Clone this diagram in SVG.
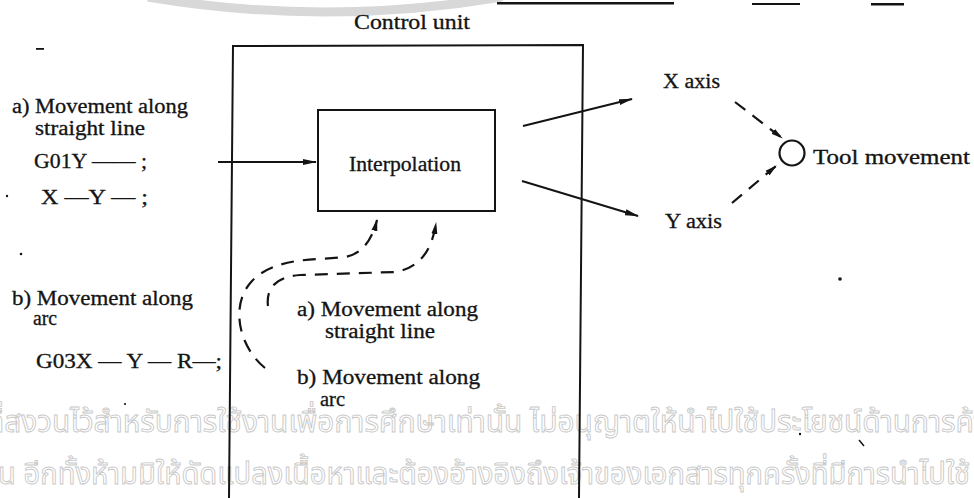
<svg xmlns="http://www.w3.org/2000/svg" width="974" height="498" viewBox="0 0 974 498">
  <style>
    .t { font-family: "Liberation Serif", "DejaVu Serif", serif; font-size: 20px; fill: #141414; stroke: #141414; stroke-width: 0.3; }
    .wm { font-family: "Noto Sans Thai", "Noto Sans", "DejaVu Sans", sans-serif; font-size: 30px; fill: #ffffff; stroke: #c8c8c8; stroke-width: 0.9; }
    .ln { fill: none; stroke: #141414; stroke-width: 2; }
    .dash { fill: none; stroke: #141414; stroke-width: 2.2; stroke-dasharray: 13 9; }
    .speck { fill: #141414; }
  </style>
  <defs>
    <marker id="head" viewBox="0 0 14 8" refX="13" refY="4" markerWidth="14" markerHeight="8" markerUnits="userSpaceOnUse" orient="auto">
      <path d="M0 1 L14 4 L0 7 Z" fill="#141414"/>
    </marker>
    <marker id="headSmall" viewBox="0 0 12 8" refX="11" refY="4" markerWidth="12" markerHeight="8" markerUnits="userSpaceOnUse" orient="auto">
      <path d="M0 1 L12 4 L0 7 Z" fill="#141414"/>
    </marker>
  </defs>

  <rect width="974" height="498" fill="#ffffff"/>

  <!-- background watermark -->
  <g id="watermark">
    <path d="M148 -3 Q 325 27 502 -3" fill="none" stroke="#d8d8d8" stroke-width="9"/>
    <text class="wm" x="-14" y="432" textLength="1000" lengthAdjust="spacingAndGlyphs">ที่สงวนไว้สำหรับการใช้งานเพื่อการศึกษาเท่านั้น ไม่อนุญาตให้นำไปใช้ประโยชน์ด้านการค้า</text>
    <text class="wm" x="-2" y="484" textLength="972" lengthAdjust="spacingAndGlyphs">น อีกทั้งห้ามมิให้ดัดแปลงเนื้อหาและต้องอ้างอิงถึงเจ้าของเอกสารทุกครั้งที่มีการนำไปใช้</text>
  </g>

  <!-- print remnants along the top edge -->
  <g id="marks">
    <rect x="497" y="2" width="177" height="2.5" class="speck"/>
    <rect x="752" y="3" width="48" height="2" class="speck"/>
    <rect x="871" y="3" width="33" height="2.5" class="speck"/>
    <rect x="36" y="48" width="8" height="1.8" class="speck"/>
    <circle cx="7" cy="196" r="1.2" class="speck"/>
    <circle cx="21" cy="254" r="1.3" class="speck"/>
    <circle cx="125" cy="404" r="1.1" class="speck"/>
    <circle cx="840" cy="279" r="1.8" class="speck"/>
    <circle cx="800" cy="434" r="1.2" class="speck"/>
    <path d="M859 440 L864 446" stroke="#141414" stroke-width="1.5"/>
  </g>

  <!-- control unit enclosure -->
  <g id="control-unit">
    <path d="M229 498 L233 46 L583 45 L579 498" class="ln" stroke-width="2.6"/>
    <text class="t" x="354" y="29" textLength="116" lengthAdjust="spacingAndGlyphs">Control unit</text>
  </g>

  <g id="interpolation">
    <rect x="318" y="110" width="177" height="101" class="ln" stroke-width="2.4"/>
    <text class="t" x="349" y="171" textLength="112" lengthAdjust="spacingAndGlyphs">Interpolation</text>
  </g>

  <g id="input-straight">
    <text class="t" x="12" y="113" textLength="176" lengthAdjust="spacingAndGlyphs">a) Movement along</text>
    <text class="t" x="35" y="135" textLength="110" lengthAdjust="spacingAndGlyphs">straight line</text>
    <text class="t" x="34" y="168" textLength="113" lengthAdjust="spacingAndGlyphs">G01Y —— ;</text>
    <text class="t" x="41" y="204" textLength="107" lengthAdjust="spacingAndGlyphs">X —Y — ;</text>
  </g>

  <g id="input-arc">
    <text class="t" x="12" y="305" textLength="181" lengthAdjust="spacingAndGlyphs">b) Movement along</text>
    <text class="t" x="33" y="325" textLength="24" lengthAdjust="spacingAndGlyphs">arc</text>
    <text class="t" x="36" y="368" textLength="186" lengthAdjust="spacingAndGlyphs">G03X — Y — R—;</text>
  </g>

  <g id="modes">
    <text class="t" x="297" y="316" textLength="181" lengthAdjust="spacingAndGlyphs">a) Movement along</text>
    <text class="t" x="325" y="338" textLength="110" lengthAdjust="spacingAndGlyphs">straight line</text>
    <text class="t" x="297" y="384" textLength="183" lengthAdjust="spacingAndGlyphs">b) Movement along</text>
    <text class="t" x="320" y="406" textLength="25" lengthAdjust="spacingAndGlyphs">arc</text>
  </g>

  <g id="x-axis">
    <text class="t" x="663" y="88" textLength="57" lengthAdjust="spacingAndGlyphs">X axis</text>
  </g>
  <g id="y-axis">
    <text class="t" x="665" y="228" textLength="57" lengthAdjust="spacingAndGlyphs">Y axis</text>
  </g>
  <g id="tool">
    <circle cx="792" cy="153" r="12.5" fill="none" stroke="#141414" stroke-width="2.2"/>
    <text class="t" x="813" y="164" textLength="157" lengthAdjust="spacingAndGlyphs">Tool movement</text>
  </g>

  <!-- connectors -->
  <g id="connectors">
    <path d="M218 162 L316 162" class="ln" marker-end="url(#head)"/>
    <path d="M523 126 L632 99" class="ln" marker-end="url(#head)"/>
    <path d="M522 181 L638 216" class="ln" marker-end="url(#head)"/>
    <path d="M735 102 L782 138" class="dash" stroke-dasharray="10 6" marker-end="url(#headSmall)"/>
    <path d="M732 203 L776 166" class="dash" stroke-dasharray="10 6" marker-end="url(#headSmall)"/>
    <path d="M265 368 C 238 346, 230 304, 252 281 C 266 266, 290 260, 320 259 L 345 257 C 362 254, 372 240, 377 220" class="dash" marker-end="url(#headSmall)"/>
    <path d="M268 306 C 266 290, 274 277, 300 275 L 395 272 C 420 268, 432 250, 436 223" class="dash" marker-end="url(#headSmall)"/>
  </g>
</svg>
